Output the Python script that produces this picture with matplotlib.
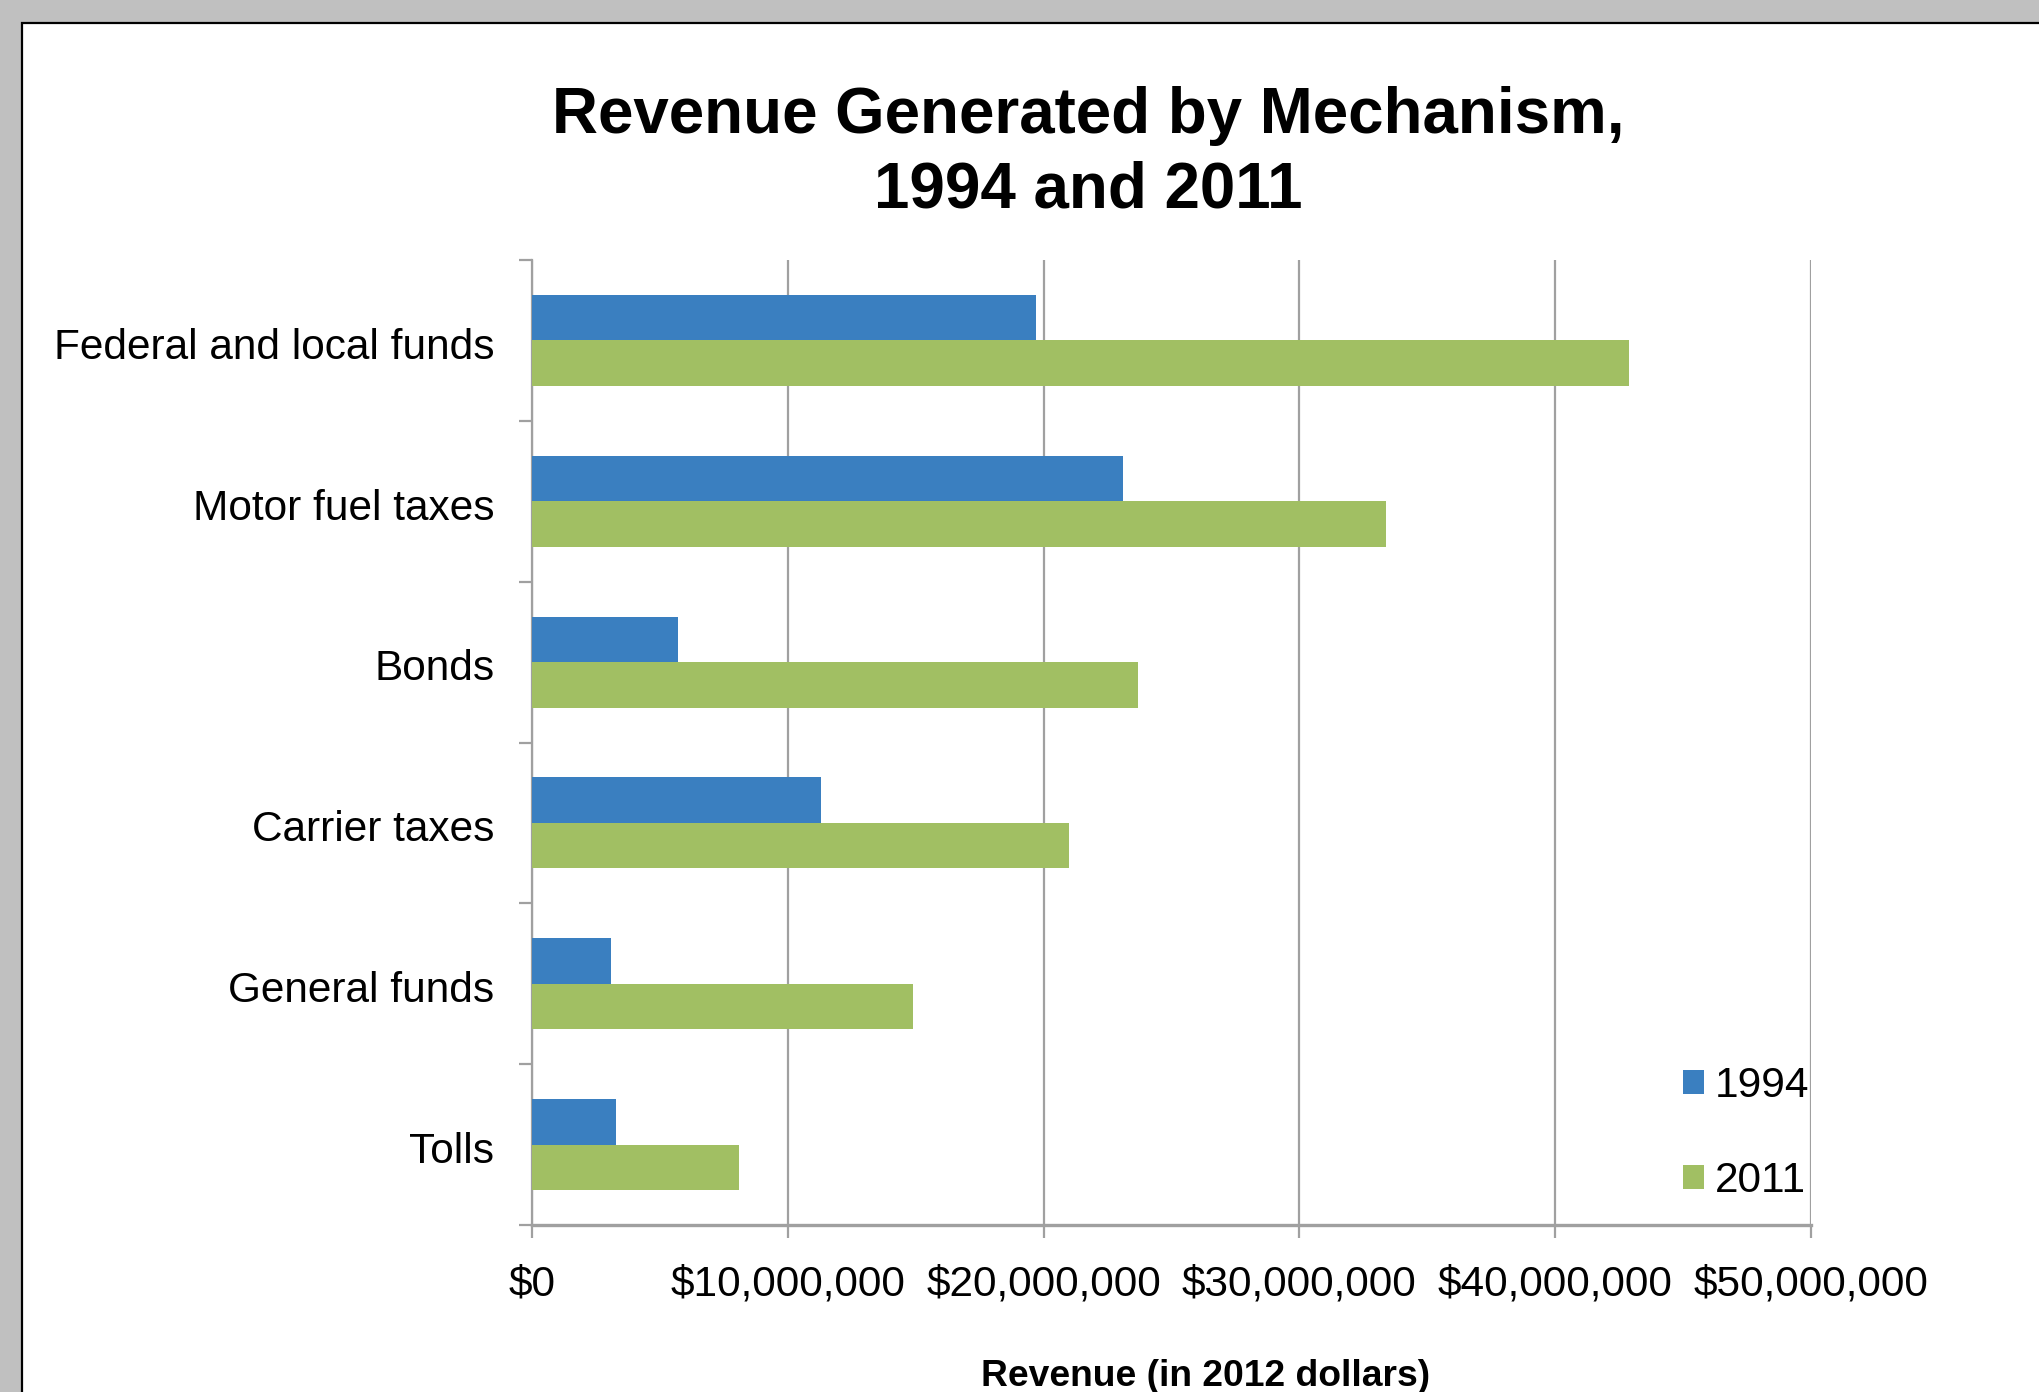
import matplotlib
matplotlib.use("Agg")
import matplotlib.pyplot as plt
from matplotlib.patches import Rectangle
from matplotlib.ticker import FuncFormatter
from matplotlib.transforms import ScaledTranslation
import numpy as np

categories = ["Federal and local funds", "Motor fuel taxes", "Bonds",
              "Carrier taxes", "General funds", "Tolls"]
rev_1994 = [19.7e6, 23.1e6, 5.7e6, 11.3e6, 3.1e6, 3.3e6]
rev_2011 = [42.9e6, 33.4e6, 23.7e6, 21.0e6, 14.9e6, 8.1e6]
series_labels = ["1994", "2011"]
xticks = [0, 10e6, 20e6, 30e6, 40e6, 50e6]

BLUE = "#3A7FC0"
GREEN = "#A1BF63"
GRID = "#A0A0A0"

plt.rcParams["font.family"] = ["Liberation Sans", "DejaVu Sans"]

W, H = 2039, 1392
fig = plt.figure(figsize=(W / 100, H / 100), dpi=100)
fig.patch.set_facecolor("#C0C0C0")

# white page with black border (top and left visible)
page = Rectangle((22 / W, -0.2), 1.5, 1 - 23 / H + 0.2, transform=fig.transFigure,
                 facecolor="white", edgecolor="black", linewidth=1.6, zorder=-10,
                 clip_on=False)
fig.patches.append(page)

left, right, top, bottom = 532, 1811, 260, 1225
ax = fig.add_axes([left / W, 1 - bottom / H, (right - left) / W, (bottom - top) / H])
ax.set_zorder(1)
ax.set_facecolor("none")

y = np.arange(len(categories))
h = 0.283
ax.barh(y - h / 2, rev_1994, height=h, color=BLUE, label=series_labels[0], zorder=3)
ax.barh(y + h / 2, rev_2011, height=h, color=GREEN, label=series_labels[1], zorder=3)

ax.set_xlim(0, 50e6)
ax.set_ylim(len(categories) - 0.5, -0.5)

ax.set_xticks(xticks)
ax.xaxis.set_major_formatter(FuncFormatter(lambda v, p: "${:,.0f}".format(v)))
ax.set_yticks(y)
ax.set_yticklabels(categories)
ax.set_yticks(np.arange(-0.5, len(categories) + 0.5, 1), minor=True)

ax.tick_params(axis="x", which="major", length=13 * 0.72, width=1.6, color=GRID,
               direction="out", labelsize=30.5, pad=19)
ax.tick_params(axis="y", which="major", length=0, labelsize=30.5, pad=27)
ax.tick_params(axis="y", which="minor", length=13 * 0.72, width=1.6, color=GRID,
               direction="out")
offset = ScaledTranslation(0, -2 / 72, fig.dpi_scale_trans)
for lbl in ax.get_yticklabels():
    lbl.set_transform(lbl.get_transform() + offset)

for s in ["top", "right"]:
    ax.spines[s].set_visible(False)
ax.spines["left"].set_color(GRID)
ax.spines["left"].set_linewidth(1.6)
ax.spines["bottom"].set_color(GRID)
ax.spines["bottom"].set_linewidth(2.4)

ax.grid(axis="x", color=GRID, linewidth=1.6, zorder=1)
ax.set_axisbelow(True)

leg = ax.legend(loc="upper left", bbox_to_anchor=(1683 / W, 1 - 1066 / H),
                bbox_transform=fig.transFigure, frameon=False, fontsize=30.5,
                handlelength=0.5, handleheight=0.5, handletextpad=0.25,
                labelspacing=1.3, borderpad=0, borderaxespad=0)

fig.text(1088 / W, 1 - 133 / H, "Revenue Generated by Mechanism,", ha="center",
         va="baseline", fontsize=45.8, fontweight="bold")
fig.text(1088 / W, 1 - 208 / H, "1994 and 2011", ha="center",
         va="baseline", fontsize=45.8, fontweight="bold")
fig.text(1206 / W, 1 - 1377 / H, "Revenue (in 2012 dollars)", ha="center",
         va="center", fontsize=26.8, fontweight="bold")

fig.savefig("out.png", dpi=100, facecolor=fig.get_facecolor())
